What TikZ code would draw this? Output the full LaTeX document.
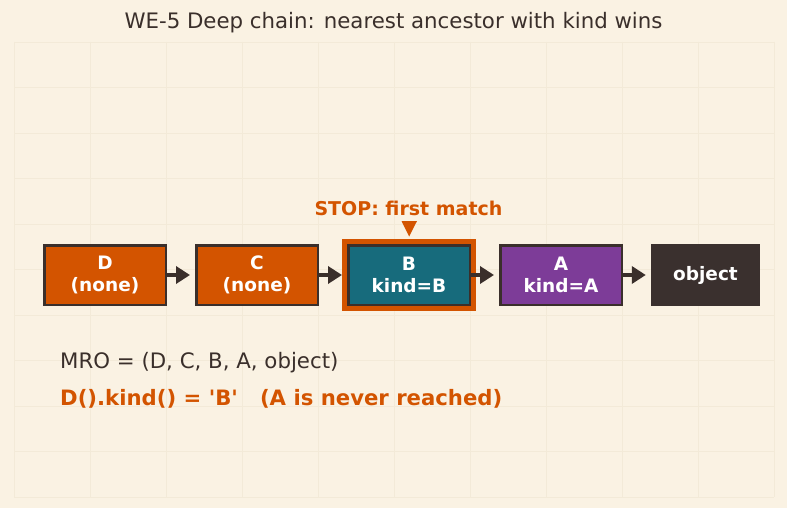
\documentclass[tikz,border=0pt]{standalone}
\usepackage{fontspec}
\setmainfont{DejaVu Sans}[Ligatures=TeXOff]
\usetikzlibrary{arrows.meta}
\definecolor{bg}{HTML}{FAF2E3}
\definecolor{gridc}{HTML}{F3EAD8}
\definecolor{ink}{HTML}{3A2F2B}
\definecolor{orng}{HTML}{D35400}
\definecolor{teal}{HTML}{176B7C}
\definecolor{purp}{HTML}{7D3C98}
\definecolor{darkbox}{HTML}{3A302E}
\tikzset{
  cls/.style={rectangle, minimum width=121.5pt, minimum height=59.5pt, line width=2.5pt,
    draw=ink, text=white, font=\bfseries\fontsize{18.5}{22}\selectfont, align=center, inner sep=0pt},
  arr/.style={draw=ink, line width=4.5pt, -{Triangle[length=14pt,width=17pt]}, shorten >=5pt},
  gridline/.style={draw=gridc, line width=0.8pt}
}
\begin{document}
\begin{tikzpicture}[x=1pt,y=-1pt]
\useasboundingbox (0,0) rectangle (787,508);
\fill[bg] (0,0) rectangle (787,508);
\foreach \x in {14,90,166,242,318,394,470,546,622,698,774} \draw[gridline] (\x,42) -- (\x,497);
\foreach \y in {42,87.5,133,178.5,224,269.5,315,360.5,406,451.5,497} \draw[gridline] (14,\y) -- (774,\y);

\node[text=ink, font=\fontsize{21.3}{25}\selectfont] (title) at (393.5,23) {WE-5 Deep chain: nearest ancestor with kind wins};

\node[cls, fill=orng] (D) at (105,275) {D\\(none)};
\node[cls, fill=orng] (C) at (257,275) {C\\(none)};
\node[cls, fill=teal] (B) at (409,275) {B\\kind=B};
\node[cls, fill=purp] (A) at (561,275) {A\\kind=A};
\node[rectangle, minimum width=109pt, minimum height=62pt, fill=darkbox, text=white,
  font=\bfseries\fontsize{18.5}{22}\selectfont, inner sep=0pt] (obj) at (705.5,275) {object};

\draw[orng, line width=5pt] ([shift={(-2.5,-2.5)}]B.north west) rectangle ([shift={(2.5,2.5)}]B.south east);

\draw[arr] (D) -- (C);
\draw[arr] (C) -- (B);
\draw[arr] (B) -- (A);
\draw[arr] (A) -- (obj);

\node[text=orng, font=\bfseries\fontsize{19}{23}\selectfont] (stop) at (408.5,208) {STOP: first match};
\fill[orng] (401.5,221) -- (417,221) -- (409.2,236.5) -- cycle;

\node[anchor=west, text=ink, font=\fontsize{21.3}{25}\selectfont, inner sep=0pt] (mro) at (60,363) {MRO = (D, C, B, A, object)};
\node[anchor=west, text=orng, font=\bfseries\fontsize{21.2}{25}\selectfont, inner sep=0pt] (res) at (60,398.5) {D().kind() = 'B'\ \ \ (A is never reached)};
\end{tikzpicture}
\end{document}
